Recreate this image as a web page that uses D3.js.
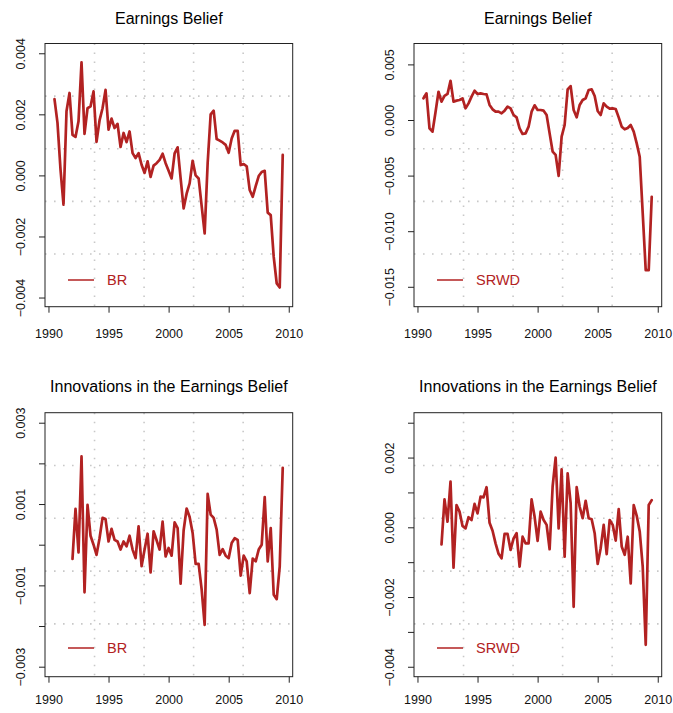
<!DOCTYPE html>
<html><head><meta charset="utf-8">
<script src="https://cdn.jsdelivr.net/npm/d3@7"></script>
<style>
body{margin:0;background:#fff}
svg{display:block}
text{font-family:"Liberation Sans",Arial,Helvetica,sans-serif}
</style>
</head><body>
<svg id="chart" width="673" height="713"></svg>
<script>
// ---------- data (quarterly observations) ----------
const topStart = 1990.5;     // first quarter of the belief series
const bottomStart = 1992.0;  // first quarter of the innovation series
const step = 0.25;

const beliefBR = [
  0.00250, 0.00172, 0.00020, -0.00096, 0.00210, 0.00270, 0.00133, 0.00126, 0.00177, 0.00370,
  0.00136, 0.00220, 0.00226, 0.00275, 0.00110, 0.00180, 0.00220, 0.00280, 0.00150, 0.00186,
  0.00155, 0.00169, 0.00093, 0.00139, 0.00109, 0.00144, 0.00073, 0.00057, 0.00073, 0.00035,
  0.00008, 0.00046, -0.00005, 0.00032, 0.00040, 0.00051, 0.00071, 0.00040, 0.00015, -0.00010,
  0.00072, 0.00092, -0.00010, -0.00108, -0.00060, -0.00026, 0.00048, 0.00000, -0.00010, -0.00100,
  -0.00190, 0.00040, 0.00200, 0.00212, 0.00119, 0.00114, 0.00108, 0.00100, 0.00074, 0.00121,
  0.00146, 0.00146, 0.00034, 0.00037, 0.00030, -0.00048, -0.00070, -0.00035, -0.00002, 0.00011,
  0.00015, -0.00122, -0.00130, -0.00267, -0.00354, -0.00367, 0.00067
];
const beliefSRWD = [
  0.00195, 0.00240, -0.00075, -0.00105, 0.00070, 0.00254, 0.00165, 0.00216, 0.00234, 0.00353,
  0.00165, 0.00174, 0.00180, 0.00195, 0.00105, 0.00150, 0.00210, 0.00263, 0.00234, 0.00240,
  0.00234, 0.00230, 0.00135, 0.00096, 0.00075, 0.00075, 0.00060, 0.00084, 0.00120, 0.00105,
  0.00045, 0.00024, -0.00075, -0.00126, -0.00120, -0.00060, 0.00075, 0.00132, 0.00090, 0.00090,
  0.00084, 0.00045, -0.00120, -0.00284, -0.00314, -0.00503, -0.00150, -0.00045, 0.00275, 0.00305,
  0.00090, 0.00024, 0.00135, 0.00180, 0.00195, 0.00270, 0.00275, 0.00216, 0.00081, 0.00045,
  0.00150, 0.00120, 0.00102, 0.00105, 0.00099, 0.00024, -0.00060, -0.00084, -0.00072, -0.00045,
  -0.00105, -0.00210, -0.00330, -0.00840, -0.01350, -0.01350, -0.00690
];
const innovBR = [
  -0.00035, 0.00088, -0.00019, 0.00217, -0.00117, 0.00098, 0.00022, 0.00000, -0.00025, 0.00016,
  0.00066, 0.00063, 0.00008, 0.00039, 0.00012, 0.00008, -0.00012, 0.00008, -0.00004, 0.00022,
  -0.00012, -0.00033, 0.00045, -0.00053, -0.00012, 0.00027, -0.00068, 0.00033, 0.00011, -0.00012,
  0.00057, -0.00029, -0.00008, -0.00027, 0.00055, 0.00041, -0.00096, 0.00035, 0.00089, 0.00068,
  0.00029, -0.00047, -0.00047, -0.00110, -0.00197, 0.00125, 0.00074, 0.00066, 0.00037, -0.00025,
  -0.00011, -0.00027, -0.00033, 0.00004, 0.00016, 0.00012, -0.00076, -0.00027, -0.00041, -0.00119,
  -0.00034, -0.00041, -0.00012, 0.00000, 0.00117, -0.00041, 0.00041, -0.00123, -0.00134, -0.00053,
  0.00189
];
const innovSRWD = [
  -0.00049, 0.00080, 0.00016, 0.00131, -0.00116, 0.00064, 0.00045, 0.00004, -0.00003, 0.00029,
  0.00021, 0.00067, 0.00040, 0.00088, 0.00086, 0.00115, 0.00013, -0.00010, -0.00046, -0.00076,
  -0.00089, -0.00019, -0.00019, -0.00065, -0.00032, -0.00017, -0.00113, -0.00027, -0.00046, -0.00046,
  0.00080, 0.00030, -0.00039, 0.00045, 0.00021, 0.00007, -0.00063, 0.00117, 0.00200, -0.00003,
  0.00166, -0.00084, 0.00155, 0.00069, -0.00228, 0.00115, 0.00059, 0.00026, 0.00076, 0.00026,
  0.00023, -0.00017, -0.00105, -0.00060, 0.00007, -0.00077, 0.00021, 0.00007, -0.00038, 0.00052,
  -0.00055, -0.00079, -0.00027, -0.00161, 0.00064, 0.00033, -0.00012, -0.00113, -0.00337, 0.00064,
  0.00078
];

// ---------- ticks ----------
const xTicks = [1990, 1995, 2000, 2005, 2010];
const yTicksTL = [-0.004, -0.002, 0, 0.002, 0.004];
const yLabelsTL = ["\u22120.004", "\u22120.002", "0.000", "0.002", "0.004"];
const yTicksTR = [-0.015, -0.010, -0.005, 0, 0.005];
const yLabelsTR = ["\u22120.015", "\u22120.010", "\u22120.005", "0.000", "0.005"];
const yTicksBL = [-0.003, -0.002, -0.001, 0, 0.001, 0.002, 0.003];
const yLabelsBL = ["\u22120.003", "", "\u22120.001", "", "0.001", "", "0.003"];
const yTicksBR = [-0.004, -0.003, -0.002, -0.001, 0, 0.001, 0.002, 0.003];
const yLabelsBR = ["\u22120.004", "", "\u22120.002", "", "0.000", "", "0.002", ""];

const titles = ["Earnings Belief", "Earnings Belief",
                "Innovations in the Earnings Belief", "Innovations in the Earnings Belief"];
const seriesNames = ["BR", "SRWD", "BR", "SRWD"];

// ---------- layout ----------
const COLOR = "#B22222";
const xDomain = [1989.71, 2010.33];
const panels = [
  {x0: 45,  x1: 292.7, y0: 43.5,  y1: 306.7, yDom: [-0.00430, 0.00432],
   values: beliefBR, start: topStart, yt: yTicksTL, yl: yLabelsTL, titleY: 23.5, legY: 280},
  {x0: 414, x1: 661.7, y0: 43.5,  y1: 306.7, yDom: [-0.01679, 0.00688],
   values: beliefSRWD, start: topStart, yt: yTicksTR, yl: yLabelsTR, titleY: 23.5, legY: 280},
  {x0: 45,  x1: 292.7, y0: 412.7, y1: 676.7, yDom: [-0.003246, 0.003246],
   values: innovBR, start: bottomStart, yt: yTicksBL, yl: yLabelsBL, titleY: 391.5, legY: 648},
  {x0: 414, x1: 661.7, y0: 412.7, y1: 676.7, yDom: [-0.004285, 0.003287],
   values: innovSRWD, start: bottomStart, yt: yTicksBR, yl: yLabelsBR, titleY: 391.5, legY: 648}
];

const svg = d3.select("#chart");

panels.forEach((p, i) => {
  const x = d3.scaleLinear().domain(xDomain).range([p.x0, p.x1]);
  const y = d3.scaleLinear().domain(p.yDom).range([p.y1, p.y0]);
  const g = svg.append("g");

  // grid: 5 x 5 equal cells over the plot region
  const fr = [0.2, 0.4, 0.6, 0.8];
  const gx = fr.map(f => xDomain[0] + f * (xDomain[1] - xDomain[0]));
  const gy = fr.map(f => p.yDom[0] + f * (p.yDom[1] - p.yDom[0]));
  g.selectAll(".gx").data(gx).enter().append("line")
    .attr("x1", d => x(d)).attr("x2", d => x(d))
    .attr("y1", p.y0).attr("y2", p.y1)
    .attr("stroke", "#c8c8c8").attr("stroke-width", 1.6)
    .attr("stroke-dasharray", "1.6,7.4").attr("stroke-linecap", "butt");
  g.selectAll(".gy").data(gy).enter().append("line")
    .attr("y1", d => y(d)).attr("y2", d => y(d))
    .attr("x1", p.x0).attr("x2", p.x1)
    .attr("stroke", "#c8c8c8").attr("stroke-width", 1.6)
    .attr("stroke-dasharray", "1.6,7.4").attr("stroke-linecap", "butt");

  // series
  const pts = p.values.map((v, k) => ({t: p.start + k * step, v}));
  const line = d3.line().x(d => x(d.t)).y(d => y(d.v));
  g.append("path").datum(pts).attr("d", line)
    .attr("fill", "none").attr("stroke", COLOR).attr("stroke-width", 2.7)
    .attr("stroke-linejoin", "round").attr("stroke-linecap", "round");

  // box
  g.append("rect").attr("x", p.x0).attr("y", p.y0)
    .attr("width", p.x1 - p.x0).attr("height", p.y1 - p.y0)
    .attr("fill", "none").attr("stroke", "#222").attr("stroke-width", 1);

  // x axis
  const xa = g.append("g").attr("transform", `translate(0,${p.y1})`)
    .call(d3.axisBottom(x).tickValues(xTicks).tickSize(6).tickFormat(d3.format("d")));
  xa.select(".domain").remove();
  xa.selectAll(".tick line").attr("stroke", "#222");
  xa.selectAll("text").attr("dy", null).attr("y", p.y1 < 400 ? 31.5 : 27)
    .attr("font-size", 12.5).attr("fill", "#111").attr("font-family", null);

  // y axis
  const ya = g.append("g").attr("transform", `translate(${p.x0},0)`)
    .call(d3.axisLeft(y).tickValues(p.yt).tickSize(6)
      .tickFormat((d, k) => p.yl[k]));
  ya.select(".domain").remove();
  ya.selectAll(".tick line").attr("stroke", "#222");
  ya.selectAll("text").attr("x", null).attr("dy", null)
    .attr("transform", "translate(-20.5,0) rotate(-90)")
    .attr("text-anchor", "middle").attr("font-size", 12.5)
    .attr("fill", "#111").attr("font-family", null);

  // title
  svg.append("text").attr("x", (p.x0 + p.x1) / 2).attr("y", p.titleY)
    .attr("text-anchor", "middle").attr("font-size", 16).attr("fill", "#000")
    .text(titles[i]);

  // legend
  svg.append("line").attr("x1", p.x0 + 23).attr("x2", p.x0 + 49)
    .attr("y1", p.legY).attr("y2", p.legY)
    .attr("stroke", COLOR).attr("stroke-width", 1.5);
  svg.append("text").attr("x", p.x0 + 62).attr("y", p.legY).attr("dy", "0.36em")
    .attr("font-size", 14.5).attr("fill", COLOR).text(seriesNames[i]);
});
</script>
</body></html>
